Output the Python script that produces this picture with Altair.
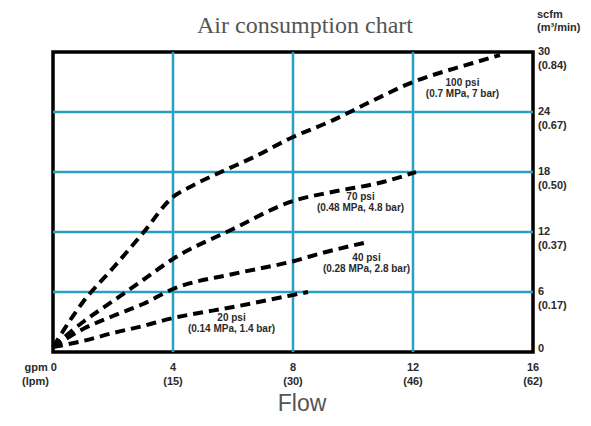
import altair as alt
import pandas as pd

# ---- data ----
series_names = ["100 psi", "70 psi", "40 psi", "20 psi"]
flow_100 = [0, 1, 2, 3, 4, 4.5, 5.6, 6.7, 8, 9.2, 10.7, 12, 13.2, 14, 14.9]
air_100 = [0.5, 5.0, 8.4, 11.9, 15.5, 16.4, 18.0, 19.5, 21.5, 23.0, 25.2, 27.0, 28.2, 28.9, 29.7]
flow_70 = [0, 1, 2, 3, 4, 6, 8, 9.3, 11, 12.1]
air_70 = [0.5, 3.0, 5.1, 7.2, 9.3, 12.3, 15.1, 16.0, 17.0, 18.0]
flow_40 = [0, 1, 2, 3, 4, 6, 7.9, 9.1, 10.5]
air_40 = [0.5, 2.3, 3.6, 4.8, 6.3, 7.8, 9.0, 10.0, 11.0]
flow_20 = [0, 1, 2, 3, 4, 4.5, 6, 8, 8.5]
air_20 = [0.5, 1.1, 1.9, 2.6, 3.4, 3.7, 4.5, 5.7, 6.0]

label_line1 = ["100 psi", "70 psi", "40 psi", "20 psi"]
label_line2 = ["(0.7 MPa, 7 bar)", "(0.48 MPa, 4.8 bar)", "(0.28 MPa, 2.8 bar)", "(0.14 MPa, 1.4 bar)"]
label_x = [13.65, 10.25, 10.45, 5.95]
label_y = [26.9, 15.5, 9.4, 3.4]

x_ticks = [4, 8, 12, 16]
x_tick_top = ["4", "8", "12", "16"]
x_tick_bottom = ["(15)", "(30)", "(46)", "(62)"]
y_ticks = [30, 24, 18, 12, 6]
y_tick_top = ["30", "24", "18", "12", "6"]
y_tick_bottom = ["(0.84)", "(0.67)", "(0.50)", "(0.37)", "(0.17)"]
x_grid = [4, 8, 12]
y_grid = [6, 12, 18, 24]

rows = []
for name, xs_, ys_ in zip(series_names, [flow_100, flow_70, flow_40, flow_20], [air_100, air_70, air_40, air_20]):
    for i, (a, b) in enumerate(zip(xs_, ys_)):
        rows.append({"series": name, "flow": a, "air": b, "order": i})
lines_df = pd.DataFrame(rows)
labels_df = pd.DataFrame({"l1": label_line1, "l2": label_line2, "x": label_x, "y": label_y})
xt_df = pd.DataFrame({"x": x_ticks, "t1": x_tick_top, "t2": x_tick_bottom})
yt_df = pd.DataFrame({"y": y_ticks, "t1": y_tick_top, "t2": y_tick_bottom})
xg_df = pd.DataFrame({"x": x_grid})
yg_df = pd.DataFrame({"y": y_grid})
zero_df = pd.DataFrame({"x": [0], "y": [0]})

xs = alt.Scale(domain=[0, 16], nice=False, zero=False)
ys = alt.Scale(domain=[0, 30], nice=False, zero=False)
FONT = "Liberation Sans"
TXT = "#2a2a2a"
GRID = "#2a9fc4"

vgrid = alt.Chart(xg_df).mark_rule(color=GRID, strokeWidth=2.5).encode(
    x=alt.X("x:Q", scale=xs, axis=None))
hgrid = alt.Chart(yg_df).mark_rule(color=GRID, strokeWidth=2.5).encode(
    y=alt.Y("y:Q", scale=ys, axis=None))

curves = alt.Chart(lines_df).mark_line(
    color="black", strokeWidth=4, strokeDash=[10, 6], strokeCap="butt", interpolate="monotone"
).encode(
    x=alt.X("flow:Q", scale=xs, axis=None),
    y=alt.Y("air:Q", scale=ys, axis=None),
    detail="series:N",
    order="order:Q",
)

lab1 = alt.Chart(labels_df).mark_text(font=FONT, fontSize=10, fontWeight="bold", color=TXT, baseline="middle").encode(
    x=alt.X("x:Q", scale=xs), y=alt.Y("y:Q", scale=ys), text="l1:N")
lab2 = alt.Chart(labels_df).mark_text(font=FONT, fontSize=10, fontWeight="bold", color=TXT, baseline="middle", dy=11).encode(
    x=alt.X("x:Q", scale=xs), y=alt.Y("y:Q", scale=ys), text="l2:N")

TK = dict(font=FONT, fontSize=11, fontWeight="bold", color=TXT, baseline="middle")
xt1 = alt.Chart(xt_df).mark_text(dy=16, **TK).encode(
    x=alt.X("x:Q", scale=xs), y=alt.value(300), text="t1:N")
xt2 = alt.Chart(xt_df).mark_text(dy=30, **TK).encode(
    x=alt.X("x:Q", scale=xs), y=alt.value(300), text="t2:N")
x0a = alt.Chart(zero_df).mark_text(align="right", dy=16, dx=4, **TK).encode(
    x=alt.X("x:Q", scale=xs), y=alt.value(300), text=alt.value("gpm 0"))
x0b = alt.Chart(zero_df).mark_text(align="right", dy=30, dx=-4, **TK).encode(
    x=alt.X("x:Q", scale=xs), y=alt.value(300), text=alt.value("(lpm)"))

yt1 = alt.Chart(yt_df).mark_text(align="left", dx=5, **TK).encode(
    x=alt.value(480), y=alt.Y("y:Q", scale=ys), text="t1:N")
yt2 = alt.Chart(yt_df).mark_text(align="left", dx=5, dy=14, **TK).encode(
    x=alt.value(480), y=alt.Y("y:Q", scale=ys), text="t2:N")
y0 = alt.Chart(zero_df).mark_text(align="left", dx=5, dy=-3, **TK).encode(
    x=alt.value(480), y=alt.Y("y:Q", scale=ys), text=alt.value("0"))
unit1 = alt.Chart(zero_df).mark_text(align="left", dx=4, **TK).encode(
    x=alt.value(480), y=alt.value(-37), text=alt.value("scfm"))
unit2 = alt.Chart(zero_df).mark_text(align="left", dx=4, **TK).encode(
    x=alt.value(480), y=alt.value(-24), text=alt.value("(m³/min)"))

title = alt.Chart(zero_df).mark_text(font="Liberation Serif", fontSize=24, color="#555555",
                                     baseline="alphabetic", align="center").encode(
    x=alt.value(252), y=alt.value(-19), text=alt.value("Air consumption chart"))
flow = alt.Chart(zero_df).mark_text(font=FONT, fontSize=23, color="#555555",
                                    baseline="alphabetic", align="center").encode(
    x=alt.value(249), y=alt.value(359), text=alt.value("Flow"))

chart = alt.layer(
    vgrid, hgrid, curves, lab1, lab2, xt1, xt2, x0a, x0b, yt1, yt2, y0, unit1, unit2, title, flow
).properties(
    width=480, height=300,
    autosize=alt.AutoSizeParams(type="none"),
    padding={"left": 45, "top": 44, "right": 50, "bottom": 66},
    background="white",
).configure_view(stroke="black", strokeWidth=3.5)

chart.save("out.html", embed_options={"renderer": "svg", "actions": False})
